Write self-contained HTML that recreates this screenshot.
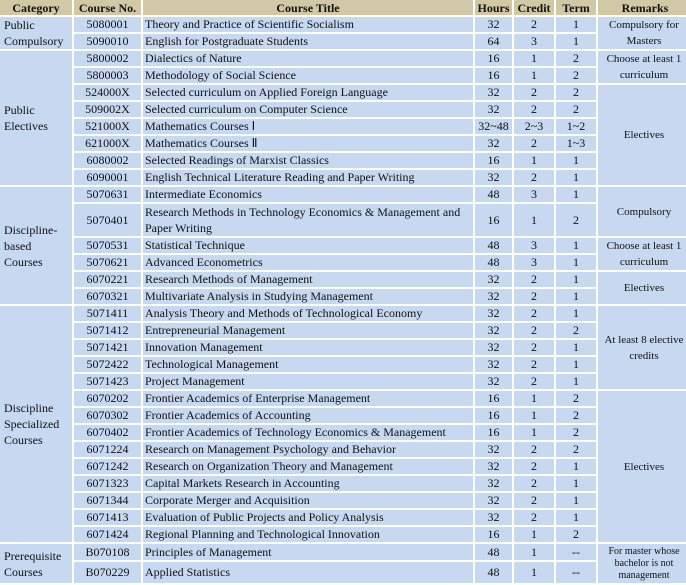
<!DOCTYPE html>
<html><head><meta charset="utf-8"><style>
body{margin:0;width:686px;height:584px;overflow:hidden;background:#fff;position:relative}
table{position:absolute;left:-2px;top:-2px;border-collapse:separate;border-spacing:2px;table-layout:fixed;font-family:"Liberation Serif",serif;font-size:12px;color:#111;width:692px}
td,th{padding:0;background:#C6D9F1;line-height:15px;overflow:hidden;white-space:nowrap}
th{background:#D3C8A6;font-weight:bold;height:14px;line-height:14px;text-align:center}
tr{height:15px}
td{height:15px}
.c{text-align:center}
.t{padding-left:2px}
.k{padding-left:4px;white-space:normal;text-align:left;line-height:16px}
.r{text-align:center;white-space:normal;font-size:11px;line-height:16px;padding-right:2px}
</style></head><body>
<table>
<colgroup><col style="width:72px"><col style="width:67px"><col style="width:330px"><col style="width:37px"><col style="width:40px"><col style="width:40px"><col style="width:94px"></colgroup>
<tr><th>Category</th><th>Course No.</th><th>Course Title</th><th>Hours</th><th>Credit</th><th>Term</th><th>Remarks</th></tr>
<tr><td class="k" rowspan="2">Public Compulsory</td><td class="c">5080001</td><td class="t">Theory and Practice of Scientific Socialism</td><td class="c">32</td><td class="c">2</td><td class="c">1</td><td class="r" rowspan="2">Compulsory for Masters</td></tr>
<tr><td class="c">5090010</td><td class="t">English for Postgraduate Students</td><td class="c">64</td><td class="c">3</td><td class="c">1</td></tr>
<tr><td class="k" rowspan="8">Public Electives</td><td class="c">5800002</td><td class="t">Dialectics of Nature</td><td class="c">16</td><td class="c">1</td><td class="c">2</td><td class="r" rowspan="2" style="vertical-align:top">Choose at least 1 curriculum</td></tr>
<tr><td class="c">5800003</td><td class="t">Methodology of Social Science</td><td class="c">16</td><td class="c">1</td><td class="c">2</td></tr>
<tr><td class="c">524000X</td><td class="t">Selected curriculum on Applied Foreign Language</td><td class="c">32</td><td class="c">2</td><td class="c">2</td><td class="r" rowspan="6">Electives</td></tr>
<tr><td class="c">509002X</td><td class="t">Selected curriculum on Computer Science</td><td class="c">32</td><td class="c">2</td><td class="c">2</td></tr>
<tr><td class="c">521000X</td><td class="t">Mathematics Courses Ⅰ</td><td class="c">32~48</td><td class="c">2~3</td><td class="c">1~2</td></tr>
<tr><td class="c">621000X</td><td class="t">Mathematics Courses Ⅱ</td><td class="c">32</td><td class="c">2</td><td class="c">1~3</td></tr>
<tr><td class="c">6080002</td><td class="t">Selected Readings of Marxist Classics</td><td class="c">16</td><td class="c">1</td><td class="c">1</td></tr>
<tr><td class="c">6090001</td><td class="t">English Technical Literature Reading and Paper Writing</td><td class="c">32</td><td class="c">2</td><td class="c">1</td></tr>
<tr><td class="k" rowspan="6">Discipline-based Courses</td><td class="c">5070631</td><td class="t">Intermediate Economics</td><td class="c">48</td><td class="c">3</td><td class="c">1</td><td class="r" rowspan="2">Compulsory</td></tr>
<tr style="height:32px"><td class="c">5070401</td><td class="t" style="white-space:normal;line-height:16px">Research Methods in Technology Economics &amp; Management and Paper Writing</td><td class="c">16</td><td class="c">1</td><td class="c">2</td></tr>
<tr><td class="c">5070531</td><td class="t">Statistical Technique</td><td class="c">48</td><td class="c">3</td><td class="c">1</td><td class="r" rowspan="2">Choose at least 1 curriculum</td></tr>
<tr><td class="c">5070621</td><td class="t">Advanced Econometrics</td><td class="c">48</td><td class="c">3</td><td class="c">1</td></tr>
<tr><td class="c">6070221</td><td class="t">Research Methods of Management</td><td class="c">32</td><td class="c">2</td><td class="c">1</td><td class="r" rowspan="2">Electives</td></tr>
<tr><td class="c">6070321</td><td class="t">Multivariate Analysis in Studying Management</td><td class="c">32</td><td class="c">2</td><td class="c">1</td></tr>
<tr><td class="k" rowspan="14">Discipline Specialized Courses</td><td class="c">5071411</td><td class="t">Analysis Theory and Methods of Technological Economy</td><td class="c">32</td><td class="c">2</td><td class="c">1</td><td class="r" rowspan="5">At least 8 elective credits</td></tr>
<tr><td class="c">5071412</td><td class="t">Entrepreneurial Management</td><td class="c">32</td><td class="c">2</td><td class="c">2</td></tr>
<tr><td class="c">5071421</td><td class="t">Innovation Management</td><td class="c">32</td><td class="c">2</td><td class="c">1</td></tr>
<tr><td class="c">5072422</td><td class="t">Technological Management</td><td class="c">32</td><td class="c">2</td><td class="c">1</td></tr>
<tr><td class="c">5071423</td><td class="t">Project Management</td><td class="c">32</td><td class="c">2</td><td class="c">1</td></tr>
<tr><td class="c">6070202</td><td class="t">Frontier Academics of Enterprise Management</td><td class="c">16</td><td class="c">1</td><td class="c">2</td><td class="r" rowspan="9">Electives</td></tr>
<tr><td class="c">6070302</td><td class="t">Frontier Academics of Accounting</td><td class="c">16</td><td class="c">1</td><td class="c">2</td></tr>
<tr><td class="c">6070402</td><td class="t">Frontier Academics of Technology Economics &amp; Management</td><td class="c">16</td><td class="c">1</td><td class="c">2</td></tr>
<tr><td class="c">6071224</td><td class="t">Research on Management Psychology and Behavior</td><td class="c">32</td><td class="c">2</td><td class="c">2</td></tr>
<tr><td class="c">6071242</td><td class="t">Research on Organization Theory and Management</td><td class="c">32</td><td class="c">2</td><td class="c">1</td></tr>
<tr><td class="c">6071323</td><td class="t">Capital Markets Research in Accounting</td><td class="c">32</td><td class="c">2</td><td class="c">1</td></tr>
<tr><td class="c">6071344</td><td class="t">Corporate Merger and Acquisition</td><td class="c">32</td><td class="c">2</td><td class="c">1</td></tr>
<tr><td class="c">6071413</td><td class="t">Evaluation of Public Projects and Policy Analysis</td><td class="c">32</td><td class="c">2</td><td class="c">1</td></tr>
<tr><td class="c">6071424</td><td class="t">Regional Planning and Technological Innovation</td><td class="c">16</td><td class="c">1</td><td class="c">2</td></tr>
<tr style="height:16px"><td class="k" rowspan="2">Prerequisite Courses</td><td class="c">B070108</td><td class="t">Principles of Management</td><td class="c">48</td><td class="c">1</td><td class="c">--</td><td class="r" rowspan="2" style="font-size:10px;line-height:12px">For master whose bachelor is not management</td></tr>
<tr style="height:21px"><td class="c">B070229</td><td class="t">Applied Statistics</td><td class="c">48</td><td class="c">1</td><td class="c">--</td></tr>
</table>
</body></html>
